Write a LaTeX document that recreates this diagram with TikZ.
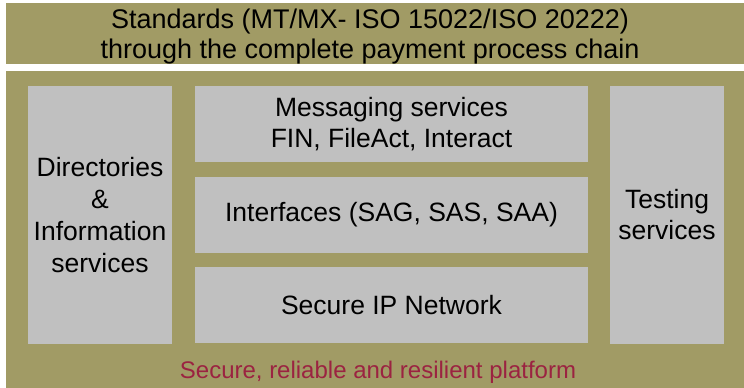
\documentclass[tikz,border=0pt]{standalone}
\usepackage{fontspec}
\setmainfont{Liberation Sans}
\definecolor{tanbg}{RGB}{161,155,101}
\definecolor{boxgray}{RGB}{192,192,192}
\definecolor{redtxt}{RGB}{155,35,65}
\begin{document}
\begin{tikzpicture}[x=1pt,y=-1pt,
  gbox/.style={fill=boxgray, draw=none, inner sep=0pt, align=center, font=\fontsize{26.5}{31}\selectfont},
  txt/.style={inner sep=0pt, align=center, font=\fontsize{27}{30}\selectfont}]
\useasboundingbox (0,0) rectangle (744,388);
\fill[white] (0,0) rectangle (744,388);
\fill[tanbg] (6,3) rectangle (744,64);
\fill[tanbg] (6,71) rectangle (744,388);
\node[txt] (std) at (370,36.3) {Standards (MT/MX- ISO 15022/ISO 20222)\\through the complete payment process chain};
\node[gbox, minimum width=144pt, minimum height=258pt, font=\fontsize{26.5}{32}\selectfont] (dir) at (100,215) {Directories\\\&\\Information\\services};
\node[gbox, minimum width=393pt, minimum height=76pt] (msg) at (391.5,124) {Messaging services\\FIN, FileAct, Interact};
\node[gbox, minimum width=393pt, minimum height=76pt] (ifc) at (391.5,215) {Interfaces (SAG, SAS, SAA)};
\node[gbox, minimum width=393pt, minimum height=76pt] (net) at (391.5,305) {Secure IP Network};
\node[gbox, minimum width=114pt, minimum height=258pt] (tst) at (667,215) {Testing\\services};
\node[inner sep=0pt, anchor=base, text=redtxt, font=\fontsize{24}{28}\selectfont] (plat) at (378,378) {Secure, reliable and resilient platform};
\end{tikzpicture}
\end{document}
